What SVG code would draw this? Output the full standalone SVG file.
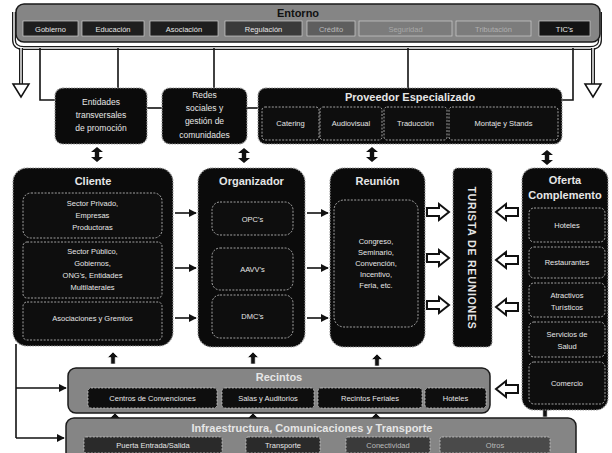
<svg xmlns="http://www.w3.org/2000/svg" width="612" height="453" viewBox="0 0 612 453">
<defs>
<style>
.bg{fill:#ffffff}
.box{fill:#0b0b0b;stroke:#9a9a9a;stroke-width:1.2;stroke-dasharray:1.5 1.2}
.sub{fill:#0e0e0e;stroke:#c8c8c8;stroke-width:0.8;stroke-dasharray:2 1.4}
.band{fill:#858585;stroke:#1a1a1a;stroke-width:1.5}
.ent{stroke:#cfcfcf;stroke-width:0.7}
.t{font-family:"Liberation Sans",Arial,sans-serif;fill:#e6e6e6;text-anchor:middle}
.ti{font-weight:bold;font-size:11px}
.it{font-size:7.5px}
.sm{font-size:8.5px}
.dk{fill:#111}
.line{fill:none;stroke:#111;stroke-width:1.6}
.frame{fill:none;stroke:#1a1a1a;stroke-width:4}
.frame2{fill:none;stroke:#ffffff;stroke-width:1.4}
.hol{fill:#ffffff;stroke:#111;stroke-width:2}
.blk{fill:#111;stroke:#fff;stroke-width:0.6}
</style>
<path id="hollowR" d="M0,-4 H12 V-8 L22,0 L12,8 V4 H0 Z"/>
<path id="dbl" d="M0,0 L6,5 H2.2 V10 H6 L0,15 L-6,10 H-2.2 V5 H-6 Z"/>
<path id="up" d="M-2.2,12 V5.5 H-5.5 L0,0 L5.5,5.5 H2.2 V12 Z"/>
<marker id="ah" viewBox="0 0 10 10" refX="9" refY="5" markerWidth="5" markerHeight="5" orient="auto"><path d="M0,0 L10,5 L0,10 Z" fill="#111"/></marker>
</defs>
<rect class="bg" width="612" height="453"/>

<g id="connectors">
<path class="frame" d="M14,12 V40 Q14,48 24,48 H590 Q600,48 600,40 V12"/>
<path class="frame2" d="M14,12 V40 Q14,48 24,48 H590 Q600,48 600,40 V12"/>
<path class="frame" d="M21,48 V86"/>
<path class="frame2" d="M21,48 V86"/>
<path d="M13,84 L21,97 L29,84 Z" fill="#fff" stroke="#111" stroke-width="1.5"/>
<path class="frame" d="M593,48 V86"/>
<path class="frame2" d="M593,48 V86"/>
<path d="M585,84 L593,97 L601,84 Z" fill="#fff" stroke="#111" stroke-width="1.5"/>
<path class="line" d="M40,48 V100 H55"/>
<path class="line" d="M118,48 V88"/>
<path class="line" d="M214,48 V88"/>
<path class="line" d="M408,48 V88"/>
<path class="line" d="M573,48 V100 H562"/>
<path class="line" d="M147,108 H162"/>
<path class="line" d="M247,108 H258"/>
<use href="#dbl" x="97" y="147" fill="#111"/>
<use href="#dbl" x="244" y="148" fill="#111"/>
<use href="#dbl" x="372" y="147" fill="#111"/>
<use href="#dbl" x="547" y="150" fill="#111"/>
<path class="line" d="M175,213 H196" marker-end="url(#ah)"/>
<path class="line" d="M175,268 H196" marker-end="url(#ah)"/>
<path class="line" d="M175,318 H196" marker-end="url(#ah)"/>
<path class="line" d="M307,213 H328" marker-end="url(#ah)"/>
<path class="line" d="M307,268 H328" marker-end="url(#ah)"/>
<path class="line" d="M307,318 H328" marker-end="url(#ah)"/>
<use href="#hollowR" class="hol" transform="translate(427,212)"/>
<use href="#hollowR" class="hol" transform="translate(427,258)"/>
<use href="#hollowR" class="hol" transform="translate(427,305)"/>
<use href="#hollowR" class="hol" transform="translate(518,212) scale(-1,1)"/>
<use href="#hollowR" class="hol" transform="translate(518,260) scale(-1,1)"/>
<use href="#hollowR" class="hol" transform="translate(518,307) scale(-1,1)"/>
<use href="#hollowR" class="hol" transform="translate(518,389) scale(-1,1)"/>
<path class="line" d="M16,344 V438"/>
<path class="line" d="M16,388 H66" marker-end="url(#ah)"/>
<path class="line" d="M16,438 H64" marker-end="url(#ah)"/>
<use href="#up" class="blk" x="113" y="352"/>
<use href="#up" class="blk" x="253" y="352"/>
<use href="#up" class="blk" x="377" y="354"/>
<use href="#up" class="blk" x="115" y="413"/>
<use href="#up" class="blk" x="253" y="413"/>
<use href="#up" class="blk" x="376" y="413"/>
<use href="#up" class="blk" x="545" y="405"/>
</g>

<g id="entorno">
<rect class="band" x="16" y="4" width="584" height="38" rx="8"/>
<text class="t ti dk" x="298" y="17" style="fill:#111">Entorno</text>
<rect class="ent" x="23" y="21" width="55" height="15" fill="#1e1e1e"/>
<text class="t it" x="50.5" y="31.5">Gobierno</text>
<rect class="ent" x="82" y="21" width="62" height="15" fill="#1e1e1e"/>
<text class="t it" x="113" y="31.5">Educación</text>
<rect class="ent" x="150" y="21" width="68" height="15" fill="#1e1e1e"/>
<text class="t it" x="184" y="31.5">Asociación</text>
<rect class="ent" x="225" y="21" width="77" height="15" fill="#3a3a3a"/>
<text class="t it" x="263.5" y="31.5">Regulación</text>
<rect class="ent" x="307" y="21" width="48" height="15" fill="#5e5e5e"/>
<text class="t it" x="331" y="31.5" style="fill:#bbb">Crédito</text>
<rect class="ent" x="359" y="21" width="93" height="15" fill="#7c7c7c"/>
<text class="t it" x="405.5" y="31.5" style="fill:#a8a8a8">Seguridad</text>
<rect class="ent" x="456" y="21" width="75" height="15" fill="#7c7c7c"/>
<text class="t it" x="493.5" y="31.5" style="fill:#b0b0b0">Tributación</text>
<rect class="ent" x="539" y="21" width="51" height="15" fill="#141414"/>
<text class="t it" x="564.5" y="31.5">TIC's</text>
</g>

<g id="entidades">
<rect class="box" x="55" y="88" width="92" height="56" rx="8"/>
<text class="t sm" x="101" y="105">Entidades</text>
<text class="t sm" x="101" y="118">transversales</text>
<text class="t sm" x="101" y="131">de promoción</text>
</g>

<g id="redes">
<rect class="box" x="162" y="88" width="85" height="56" rx="8"/>
<text class="t sm" x="204.5" y="98">Redes</text>
<text class="t sm" x="204.5" y="111">sociales y</text>
<text class="t sm" x="204.5" y="124">gestión de</text>
<text class="t sm" x="204.5" y="138">comunidades</text>
</g>

<g id="proveedor">
<rect class="box" x="258" y="88" width="304" height="56" rx="8"/>
<text class="t ti" x="410" y="101">Proveedor Especializado</text>
<rect class="sub" x="262" y="107" width="57" height="33" rx="3"/>
<text class="t it" x="290.5" y="126">Catering</text>
<rect class="sub" x="320" y="107" width="62" height="33" rx="3"/>
<text class="t it" x="351" y="126">Audiovisual</text>
<rect class="sub" x="384" y="107" width="63" height="33" rx="3"/>
<text class="t it" x="415.5" y="126">Traducción</text>
<rect class="sub" x="449" y="107" width="109" height="33" rx="3"/>
<text class="t it" x="503.5" y="126">Montaje y Stands</text>
</g>

<g id="cliente">
<rect class="box" x="13" y="168" width="160" height="178" rx="14"/>
<text class="t ti" x="93" y="185">Cliente</text>
<rect class="sub" x="23" y="193" width="139" height="45" rx="8"/>
<text class="t it" x="92.5" y="206">Sector Privado,</text>
<text class="t it" x="92.5" y="218">Empresas</text>
<text class="t it" x="92.5" y="230">Productoras</text>
<rect class="sub" x="23" y="242" width="139" height="56" rx="4"/>
<text class="t it" x="92.5" y="254">Sector Público,</text>
<text class="t it" x="92.5" y="266">Gobiernos,</text>
<text class="t it" x="92.5" y="278">ONG's, Entidades</text>
<text class="t it" x="92.5" y="290">Multilaterales</text>
<rect class="sub" x="23" y="302" width="139" height="38" rx="4"/>
<text class="t it" x="92.5" y="321">Asociaciones y Gremios</text>
</g>

<g id="organizador">
<rect class="box" x="198" y="168" width="107" height="179" rx="14"/>
<text class="t ti" x="251.5" y="185">Organizador</text>
<rect class="sub" x="212" y="202" width="81" height="33" rx="8"/>
<text class="t it" x="252.5" y="222">OPC's</text>
<rect class="sub" x="212" y="248" width="81" height="42" rx="8"/>
<text class="t it" x="252.5" y="272">AAVV's</text>
<rect class="sub" x="212" y="295" width="81" height="43" rx="8"/>
<text class="t it" x="252.5" y="319">DMC's</text>
</g>

<g id="reunion">
<rect class="box" x="330" y="168" width="95" height="179" rx="14"/>
<text class="t ti" x="377.5" y="185">Reunión</text>
<rect class="sub" x="334" y="200" width="84" height="127" rx="10"/>
<text class="t it" x="376" y="244">Congreso,</text>
<text class="t it" x="376" y="255">Seminario,</text>
<text class="t it" x="376" y="266">Convención,</text>
<text class="t it" x="376" y="277">Incentivo,</text>
<text class="t it" x="376" y="288">Feria, etc.</text>
</g>

<g id="turista">
<rect class="box" x="453" y="168" width="39" height="179" rx="5"/>
<text class="t" x="0" y="0" font-weight="bold" font-size="10.5" letter-spacing="0.8" transform="translate(468,258) rotate(90)">TURISTA DE REUNIONES</text>
</g>

<g id="oferta">
<rect class="box" x="522" y="168" width="86" height="242" rx="12"/>
<text class="t ti" x="565" y="184">Oferta</text>
<text class="t ti" x="565" y="199">Complemento</text>
<rect class="sub" x="529" y="208" width="76" height="34" rx="5"/>
<text class="t it" x="567" y="228">Hoteles</text>
<rect class="sub" x="529" y="247" width="76" height="31" rx="5"/>
<text class="t it" x="567" y="265">Restaurantes</text>
<rect class="sub" x="529" y="283" width="76" height="34" rx="5"/>
<text class="t it" x="567" y="298">Atractivos</text>
<text class="t it" x="567" y="310">Turísticos</text>
<rect class="sub" x="529" y="322" width="76" height="35" rx="5"/>
<text class="t it" x="567" y="337">Servicios de</text>
<text class="t it" x="567" y="349">Salud</text>
<rect class="sub" x="529" y="362" width="76" height="42" rx="5"/>
<text class="t it" x="567" y="386">Comercio</text>
</g>

<g id="recintos">
<rect class="band" x="68" y="368" width="422" height="45" rx="8"/>
<text class="t ti" x="279" y="381">Recintos</text>
<rect class="sub" x="88" y="388" width="129" height="20" rx="3"/>
<text class="t it" x="152.5" y="401">Centros de Convenciones</text>
<rect class="sub" x="222" y="388" width="92" height="20" rx="3"/>
<text class="t it" x="268" y="401">Salas y Auditorios</text>
<rect class="sub" x="318" y="388" width="104" height="20" rx="3"/>
<text class="t it" x="370" y="401">Recintos Feriales</text>
<rect class="sub" x="425" y="388" width="61" height="20" rx="3"/>
<text class="t it" x="455.5" y="401">Hoteles</text>
</g>

<g id="infraestructura">
<rect class="band" x="66" y="418" width="510" height="42" rx="8"/>
<text class="t ti" x="312" y="432">Infraestructura, Comunicaciones y Transporte</text>
<rect class="sub" x="84" y="437" width="138" height="16" rx="2" style="fill:#2a2a2a"/>
<text class="t it" x="153" y="448">Puerta Entrada/Salida</text>
<rect class="sub" x="246" y="437" width="74" height="16" rx="2" style="fill:#2a2a2a"/>
<text class="t it" x="283" y="448">Transporte</text>
<rect class="sub" x="346" y="437" width="84" height="16" rx="2" style="fill:#3a3a3a"/>
<text class="t it" x="388" y="448" style="fill:#bbb">Conectividad</text>
<rect class="sub" x="440" y="437" width="110" height="16" rx="2" style="fill:#4a4a4a"/>
<text class="t it" x="495" y="448" style="fill:#bbb">Otros</text>
</g>
</svg>
